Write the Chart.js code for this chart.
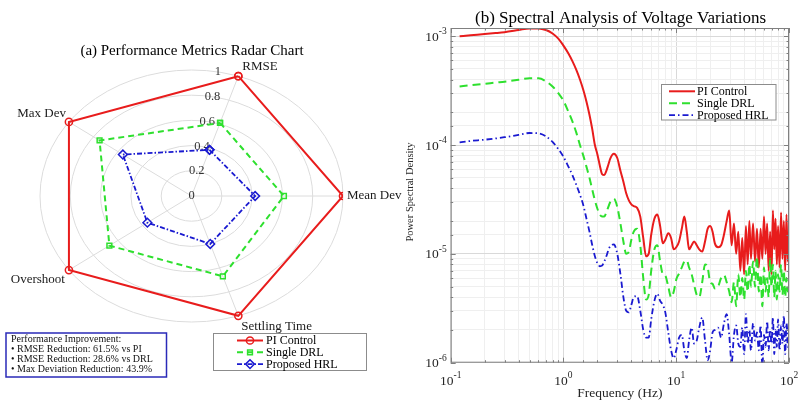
<!DOCTYPE html>
<html>
<head>
<meta charset="utf-8">
<script src="https://cdn.jsdelivr.net/npm/chart.js@4.4.1/dist/chart.umd.min.js"></script>
<style>
  html, body { margin: 0; padding: 0; background: #fff; }
  #wrap { position: relative; width: 801px; height: 403px; overflow: hidden; }
  .panel { position: absolute; top: 0; }
  #radarBox { left: 0; }
  #spectrumBox { left: 400px; }
</style>
</head>
<body>
<div id="wrap">
  <div class="panel" id="radarBox"><canvas id="radarChart" width="420" height="403"></canvas></div>
  <div class="panel" id="spectrumBox"><canvas id="spectrumChart" width="401" height="403"></canvas></div>
</div>
<script>
'use strict';

// ---------- (a) radar data, normalised to the PI baseline
const metrics = ['RMSE', 'Mean Dev', 'Settling Time', 'Overshoot', 'Max Dev'];
const radarTicks = [0, 0.2, 0.4, 0.6, 0.8, 1];
const piScores = [1, 1, 1, 1, 1];
const drlScores = [0.61, 0.61, 0.67, 0.67, 0.75];
const hrlScores = [0.385, 0.42, 0.40, 0.36, 0.56];
const seriesNames = ['PI Control', 'Single DRL', 'Proposed HRL'];
const noteTitle = 'Performance Improvement:';
const noteLines = [
  '\u2022 RMSE Reduction: 61.5% vs PI',
  '\u2022 RMSE Reduction: 28.6% vs DRL',
  '\u2022 Max Deviation Reduction: 43.9%'
];

// ---------- (b) spectrum data
const freqHz = [
  0.12, 0.15, 0.2, 0.25, 0.3, 0.4, 0.5, 0.6, 0.7, 0.8,
  0.9, 1.0, 1.1, 1.2, 1.3, 1.4, 1.5, 1.6, 1.7, 1.8,
  1.9, 2.0, 2.1, 2.2, 2.3, 2.4, 2.5, 2.6, 2.8, 3.0,
  3.2, 3.4, 3.6, 3.8, 4.0, 4.2, 4.5, 4.8, 5.1, 5.4,
  5.7, 6.0, 6.4, 6.8, 7.2, 7.6, 8.0, 8.5, 9.0, 9.5,
  10, 10.6, 11.2, 11.8, 12.4, 13, 13.7, 14.4, 15.2, 16,
  17, 18, 19, 20, 21, 22, 23.5, 25, 26.5, 28,
  29.5, 31, 32.5, 34, 35.5, 37, 38.5, 40, 41.5, 43,
  44.5, 46, 48, 50, 52, 54, 56, 58, 60, 62,
  64, 66, 68, 70, 72, 74, 76, 78, 80, 82.5,
  85, 87.5, 90, 92.5, 95, 97.5, 100
];
const psdPI = [
  1.0e-3, 1.02e-3, 1.05e-3, 1.07e-3, 1.09e-3, 1.14e-3, 1.18e-3, 1.18e-3, 1.14e-3, 1.06e-3,
  9.5e-4, 8.2e-4, 7.0e-4, 5.9e-4, 4.9e-4, 4.0e-4, 3.2e-4, 2.5e-4, 1.9e-4, 1.4e-4,
  1.0e-4, 8.2e-5, 6.5e-5, 5.4e-5, 5.3e-5, 5.8e-5, 6.6e-5, 7.5e-5, 8.3e-5, 7.6e-5,
  5.8e-5, 4.6e-5, 3.6e-5, 3.1e-5, 2.85e-5, 2.75e-5, 2.65e-5, 2.2e-5, 1.4e-5, 9.5e-6,
  1.0e-5, 1.5e-5, 2.1e-5, 2.3e-5, 1.8e-5, 1.25e-5, 1.35e-5, 1.55e-5, 1.4e-5, 1.1e-5,
  1.15e-5, 1.3e-5, 1.7e-5, 2.2e-5, 1.6e-5, 1.1e-5, 1.2e-5, 1.3e-5, 1.2e-5, 1.1e-5,
  1.05e-5, 1.3e-5, 1.7e-5, 1.8e-5, 1.6e-5, 1.25e-5, 1.15e-5, 1.2e-5, 1.5e-5, 2.0e-5,
  2.5e-5, 1.2e-5, 1.9e-5, 1.0e-5, 1.6e-5, 7e-6, 1.4e-5, 6.5e-6, 1.8e-5, 8e-6,
  2.0e-5, 9e-6, 1.9e-5, 8.5e-6, 1.7e-5, 7.5e-6, 1.7e-5, 9e-6, 2.2e-5, 1.0e-5,
  1.9e-5, 7e-6, 1.6e-5, 6.5e-6, 2.5e-5, 1.1e-5, 2.1e-5, 8e-6, 1.8e-5, 7.5e-6,
  2.4e-5, 9e-6, 2.0e-5, 7e-6, 2.3e-5, 8.5e-6, 1.3e-5
];
const psdDRL = [
  3.45e-4, 3.55e-4, 3.65e-4, 3.75e-4, 3.82e-4, 3.98e-4, 4.1e-4, 4.1e-4, 3.85e-4, 3.45e-4,
  3.0e-4, 2.55e-4, 2.05e-4, 1.65e-4, 1.3e-4, 1.0e-4, 8.0e-5, 6.3e-5, 5.0e-5, 3.9e-5,
  3.1e-5, 2.6e-5, 2.3e-5, 2.2e-5, 2.2e-5, 2.4e-5, 2.7e-5, 3.0e-5, 3.2e-5, 2.7e-5,
  1.9e-5, 1.3e-5, 1.0e-5, 1.05e-5, 1.35e-5, 1.6e-5, 1.7e-5, 1.2e-5, 6e-6, 3.8e-6,
  4.2e-6, 7e-6, 1.1e-5, 1.2e-5, 8.5e-6, 6.5e-6, 6.3e-6, 5e-6, 4.0e-6, 4.5e-6,
  5.8e-6, 6.6e-6, 7.5e-6, 8.5e-6, 8.7e-6, 7.5e-6, 6.5e-6, 5.2e-6, 4.2e-6, 4.0e-6,
  5.5e-6, 8.0e-6, 7.5e-6, 5.5e-6, 5.3e-6, 4.8e-6, 5.0e-6, 6.0e-6, 6.4e-6, 5.5e-6,
  4.5e-6, 3.6e-6, 5.5e-6, 3.3e-6, 6.5e-6, 4.0e-6, 6.0e-6, 3.8e-6, 7.0e-6, 4.5e-6,
  8.0e-6, 5.0e-6, 8.5e-6, 5.0e-6, 9.4e-6, 4.5e-6, 6.5e-6, 3.3e-6, 7.5e-6, 4.5e-6,
  6.0e-6, 4.0e-6, 9.0e-6, 5.0e-6, 8.0e-6, 4.0e-6, 7.0e-6, 3.8e-6, 6.5e-6, 4.5e-6,
  8.0e-6, 4.2e-6, 7.0e-6, 4.0e-6, 6.0e-6, 4.5e-6, 5.0e-6
];
const psdHRL = [
  1.06e-4, 1.09e-4, 1.12e-4, 1.15e-4, 1.18e-4, 1.24e-4, 1.29e-4, 1.28e-4, 1.2e-4, 1.07e-4,
  9.2e-5, 7.8e-5, 6.4e-5, 5.3e-5, 4.3e-5, 3.5e-5, 2.8e-5, 2.1e-5, 1.6e-5, 1.2e-5,
  9.5e-6, 8.2e-6, 7.7e-6, 7.8e-6, 8.5e-6, 9.5e-6, 1.08e-5, 1.18e-5, 1.22e-5, 1.0e-5,
  6.5e-6, 4.0e-6, 3.0e-6, 2.9e-6, 3.4e-6, 4.0e-6, 4.1e-6, 3.0e-6, 2.0e-6, 1.7e-6,
  1.7e-6, 2.5e-6, 3.7e-6, 4.3e-6, 3.7e-6, 3.4e-6, 2.9e-6, 1.9e-6, 1.3e-6, 1.1e-6,
  1.3e-6, 1.7e-6, 1.8e-6, 1.3e-6, 1.1e-6, 1.6e-6, 2.1e-6, 1.5e-6, 1.6e-6, 2.1e-6,
  2.6e-6, 1.6e-6, 1.05e-6, 1.3e-6, 1.9e-6, 2.0e-6, 2.1e-6, 1.7e-6, 2.3e-6, 2.8e-6,
  1.8e-6, 1.0e-6, 1.8e-6, 2.2e-6, 1.5e-6, 1.4e-6, 2.1e-6, 1.2e-6, 2.8e-6, 1.5e-6,
  2.0e-6, 1.3e-6, 2.3e-6, 1.6e-6, 1.9e-6, 1.3e-6, 2.2e-6, 0.9e-6, 1.8e-6, 1.4e-6,
  2.4e-6, 1.3e-6, 2.0e-6, 1.5e-6, 2.6e-6, 1.2e-6, 2.0e-6, 1.4e-6, 2.5e-6, 1.3e-6,
  2.2e-6, 1.5e-6, 2.7e-6, 1.2e-6, 2.3e-6, 1.4e-6, 2.5e-6
];
const freqRange = [0.1, 100];
const psdRange = [1e-6, 1.19e-3];

// ---------- shared look
const serif = '"Liberation Serif", "Times New Roman", serif';
const ink = '#262626';
const frameInk = '#808080';
const lineStyles = [
  { color: '#e81c1c', dash: [], dashSpec: [], width: 2, marker: 'circle', size: 3.6 },
  { color: '#2ee02e', dash: [6, 4], dashSpec: [8, 5], width: 2, marker: 'rect', size: 3.4 },
  { color: '#1a1ad0', dash: [5, 2, 1.5, 2], dashSpec: [6, 3, 1.5, 3], width: 1.8, marker: 'rectRot', size: 4.4 }
];

var RadarPanel = (function() {
  // first metric sits 72 degrees above the horizontal, the rest follow clockwise
  function axisAngle(i) {
    return (72 - 72 * i) * Math.PI / 180;
  }

  function toPoints(scores) {
    let pts = scores.map(function(v, i) {
      return { x: v * Math.cos(axisAngle(i)), y: v * Math.sin(axisAngle(i)) };
    });
    pts.push(pts[0]);
    return pts;
  }

  const labelPlace = {
    'RMSE': ['left', 'bottom', 4, -3],
    'Mean Dev': ['left', 'middle', 4, 0],
    'Settling Time': ['left', 'top', 3, 4],
    'Overshoot': ['right', 'top', -4, 3],
    'Max Dev': ['right', 'bottom', -3, -2]
  };

  function drawMarker(ctx, style, x, y) {
    ctx.save();
    ctx.strokeStyle = style.color;
    ctx.fillStyle = 'rgba(0,0,0,0)';
    ctx.lineWidth = 1.5;
    ctx.setLineDash([]);
    Chart.helpers.drawPoint(ctx, { pointStyle: style.marker, radius: style.size, borderWidth: 1.5, rotation: 0 }, x, y);
    ctx.restore();
  }

  const decor = {
    id: 'radarDecor',
    beforeDatasetsDraw: function(chart) {
      const ctx = chart.ctx;
      const xs = chart.scales.x;
      const ys = chart.scales.y;
      const cx = xs.getPixelForValue(0);
      const cy = ys.getPixelForValue(0);
      const rMax = radarTicks[radarTicks.length - 1];

      ctx.save();
      ctx.strokeStyle = '#dcdcdc';
      ctx.lineWidth = 1;
      radarTicks.forEach(function(v) {
        if (v === 0) return;
        ctx.beginPath();
        ctx.ellipse(cx, cy, xs.getPixelForValue(v) - cx, cy - ys.getPixelForValue(v), 0, 0, Math.PI * 2);
        ctx.stroke();
      });
      metrics.forEach(function(m, i) {
        ctx.beginPath();
        ctx.moveTo(cx, cy);
        ctx.lineTo(xs.getPixelForValue(rMax * Math.cos(axisAngle(i))), ys.getPixelForValue(rMax * Math.sin(axisAngle(i))));
        ctx.stroke();
      });

      // ring values run up a line a little left of the first spoke
      const tickAngle = 80 * Math.PI / 180;
      ctx.fillStyle = '#333';
      ctx.font = '12.5px ' + serif;
      ctx.textAlign = 'center';
      ctx.textBaseline = 'middle';
      radarTicks.forEach(function(v) {
        const txt = (v === 0 || v === 1) ? String(v) : v.toFixed(1);
        ctx.fillText(txt, xs.getPixelForValue(v * Math.cos(tickAngle)), ys.getPixelForValue(v * Math.sin(tickAngle)));
      });
      ctx.restore();
    },
    afterDraw: function(chart) {
      const ctx = chart.ctx;
      const xs = chart.scales.x;
      const ys = chart.scales.y;
      const rMax = radarTicks[radarTicks.length - 1];

      ctx.save();
      ctx.fillStyle = '#1a1a1a';
      ctx.font = '13px ' + serif;
      metrics.forEach(function(m, i) {
        const p = labelPlace[m];
        ctx.textAlign = p[0];
        ctx.textBaseline = p[1];
        ctx.fillText(m, xs.getPixelForValue(rMax * Math.cos(axisAngle(i))) + p[2], ys.getPixelForValue(rMax * Math.sin(axisAngle(i))) + p[3]);
      });

      // title
      ctx.fillStyle = '#000';
      ctx.font = '15px ' + serif;
      ctx.textAlign = 'center';
      ctx.textBaseline = 'middle';
      ctx.fillText('(a) Performance Metrics Radar Chart', 192, 51);

      // legend
      ctx.fillStyle = '#fff';
      ctx.fillRect(213.5, 333.5, 153, 37);
      ctx.strokeStyle = '#8c8c8c';
      ctx.lineWidth = 1;
      ctx.strokeRect(213.5, 333.5, 153, 37);
      seriesNames.forEach(function(name, i) {
        const st = lineStyles[i];
        const y = 340.5 + i * 11.8;
        ctx.strokeStyle = st.color;
        ctx.lineWidth = st.width;
        ctx.setLineDash(st.dash);
        ctx.beginPath();
        ctx.moveTo(237, y);
        ctx.lineTo(263, y);
        ctx.stroke();
        ctx.setLineDash([]);
        drawMarker(ctx, st, 250, y);
        ctx.fillStyle = '#000';
        ctx.font = '12px ' + serif;
        ctx.textAlign = 'left';
        ctx.textBaseline = 'middle';
        ctx.fillText(name, 266, y + 0.5);
      });

      // improvement note
      ctx.fillStyle = '#fff';
      ctx.fillRect(6, 333, 160.5, 44);
      ctx.strokeStyle = '#2a2ab8';
      ctx.lineWidth = 1.5;
      ctx.strokeRect(6, 333, 160.5, 44);
      ctx.fillStyle = '#111';
      ctx.font = '10px ' + serif;
      ctx.textAlign = 'left';
      ctx.textBaseline = 'middle';
      [noteTitle].concat(noteLines).forEach(function(line, i) {
        ctx.fillText(line, 11, 339.8 + i * 9.7);
      });
      ctx.restore();
    }
  };

  let create = function() {
    const allScores = [piScores, drlScores, hrlScores];
    const datasets = allScores.map(function(scores, i) {
      const st = lineStyles[i];
      return {
        label: seriesNames[i],
        data: toPoints(scores),
        showLine: true,
        borderColor: st.color,
        borderWidth: st.width,
        borderDash: st.dash,
        pointStyle: st.marker,
        pointRadius: st.size,
        pointBorderWidth: 1.5,
        pointBorderColor: st.color,
        pointBackgroundColor: 'rgba(0,0,0,0)',
        tension: 0
      };
    });

    return new Chart(document.getElementById('radarChart'), {
      type: 'scatter',
      data: { datasets: datasets },
      options: {
        responsive: false,
        animation: false,
        devicePixelRatio: 1,
        layout: { padding: { left: 40, right: 77, top: 70, bottom: 81 } },
        scales: {
          x: { type: 'linear', min: -1, max: 1, display: false },
          y: { type: 'linear', min: -1, max: 1, display: false }
        },
        plugins: { legend: { display: false }, tooltip: { enabled: false } }
      },
      plugins: [decor]
    });
  };

  return { create: create, drawMarker: drawMarker };
})();

var SpectrumPanel = (function() {
  function isDecade(v) {
    const e = Math.log10(v);
    return Math.abs(e - Math.round(e)) < 1e-6;
  }

  function drawPower(ctx, value, x, baseline, align) {
    const base = '10';
    const sup = String(Math.round(Math.log10(value)));
    ctx.font = '13.5px ' + serif;
    const wb = ctx.measureText(base).width;
    ctx.font = '9.5px ' + serif;
    const ws = ctx.measureText(sup).width;
    const left = align === 'right' ? x - wb - ws : x - (wb + ws) / 2;
    ctx.textAlign = 'left';
    ctx.textBaseline = 'alphabetic';
    ctx.font = '13.5px ' + serif;
    ctx.fillText(base, left, baseline);
    ctx.font = '9.5px ' + serif;
    ctx.fillText(sup, left + wb, baseline - 6.5);
  }

  const decor = {
    id: 'spectrumDecor',
    afterDraw: function(chart) {
      const ctx = chart.ctx;
      const area = chart.chartArea;
      const xs = chart.scales.x;
      const ys = chart.scales.y;

      ctx.save();
      // frame
      ctx.strokeStyle = frameInk;
      ctx.lineWidth = 1;
      ctx.strokeRect(area.left + 0.5, area.top + 0.5, area.right - area.left - 1, area.bottom - area.top - 1);

      // inward ticks on all four sides
      ctx.beginPath();
      xs.ticks.forEach(function(t) {
        const px = Math.round(xs.getPixelForValue(t.value)) + 0.5;
        const len = isDecade(t.value) ? 5 : 2.5;
        ctx.moveTo(px, area.bottom); ctx.lineTo(px, area.bottom - len);
        ctx.moveTo(px, area.top); ctx.lineTo(px, area.top + len);
      });
      ys.ticks.forEach(function(t) {
        if (t.value > psdRange[1] * 0.999) return;
        const py = Math.round(ys.getPixelForValue(t.value)) + 0.5;
        const len = isDecade(t.value) ? 5 : 2.5;
        ctx.moveTo(area.left, py); ctx.lineTo(area.left + len, py);
        ctx.moveTo(area.right, py); ctx.lineTo(area.right - len, py);
      });
      ctx.stroke();

      // decade labels
      ctx.fillStyle = ink;
      xs.ticks.forEach(function(t) {
        if (isDecade(t.value)) drawPower(ctx, t.value, xs.getPixelForValue(t.value), 384.5, 'center');
      });
      ys.ticks.forEach(function(t) {
        if (isDecade(t.value)) drawPower(ctx, t.value, area.left - 4, ys.getPixelForValue(t.value) + 4.5, 'right');
      });

      // axis titles
      ctx.font = '13.5px ' + serif;
      ctx.textAlign = 'center';
      ctx.textBaseline = 'middle';
      ctx.fillText('Frequency (Hz)', (area.left + area.right) / 2, 393.5);
      ctx.save();
      ctx.translate(10, 192);
      ctx.rotate(-Math.PI / 2);
      ctx.font = '10.5px ' + serif;
      ctx.fillText('Power Spectral Density', 0, 0);
      ctx.restore();

      // title
      ctx.fillStyle = '#000';
      ctx.font = '17px ' + serif;
      ctx.fillText('(b) Spectral Analysis of Voltage Variations', 220.5, 18.5);

      // legend
      ctx.fillStyle = '#fff';
      ctx.fillRect(261.5, 84.5, 114.5, 35.5);
      ctx.strokeStyle = '#8c8c8c';
      ctx.lineWidth = 1;
      ctx.strokeRect(261.5, 84.5, 114.5, 35.5);
      seriesNames.forEach(function(name, i) {
        const st = lineStyles[i];
        const y = 91.3 + i * 11.9;
        ctx.strokeStyle = st.color;
        ctx.lineWidth = st.width;
        ctx.setLineDash(st.dashSpec);
        ctx.beginPath();
        ctx.moveTo(269, y);
        ctx.lineTo(295, y);
        ctx.stroke();
        ctx.setLineDash([]);
        ctx.fillStyle = '#000';
        ctx.font = '12px ' + serif;
        ctx.textAlign = 'left';
        ctx.textBaseline = 'middle';
        ctx.fillText(name, 297, y + 0.5);
      });
      ctx.restore();
    }
  };

  function gridColor(c) {
    if (!c.tick) return '#ececec';
    return isDecade(c.tick.value) ? '#d9d9d9' : '#efefef';
  }

  let create = function() {
    const allPsd = [psdPI, psdDRL, psdHRL];
    const datasets = allPsd.map(function(series, i) {
      const st = lineStyles[i];
      return {
        label: seriesNames[i],
        data: freqHz.map(function(f, k) { return { x: f, y: series[k] }; }),
        borderColor: st.color,
        borderWidth: st.width,
        borderDash: st.dashSpec,
        pointRadius: 0,
        cubicInterpolationMode: 'monotone',
        fill: false
      };
    });
    // draw blue first so red sits on top, like the reference
    datasets.reverse();

    return new Chart(document.getElementById('spectrumChart'), {
      type: 'line',
      data: { datasets: datasets },
      options: {
        responsive: false,
        animation: false,
        devicePixelRatio: 1,
        parsing: true,
        layout: { padding: { left: 50.7, right: 12, top: 28, bottom: 40.3 } },
        scales: {
          x: {
            type: 'logarithmic', min: freqRange[0], max: freqRange[1],
            ticks: { display: false },
            grid: { color: gridColor, drawTicks: false, lineWidth: 1 },
            border: { display: false }
          },
          y: {
            type: 'logarithmic', min: psdRange[0], max: psdRange[1],
            ticks: { display: false },
            grid: { color: gridColor, drawTicks: false, lineWidth: 1 },
            border: { display: false }
          }
        },
        plugins: { legend: { display: false }, tooltip: { enabled: false } }
      },
      plugins: [decor]
    });
  };

  return { create: create };
})();

RadarPanel.create();
SpectrumPanel.create();
</script>
</body>
</html>
